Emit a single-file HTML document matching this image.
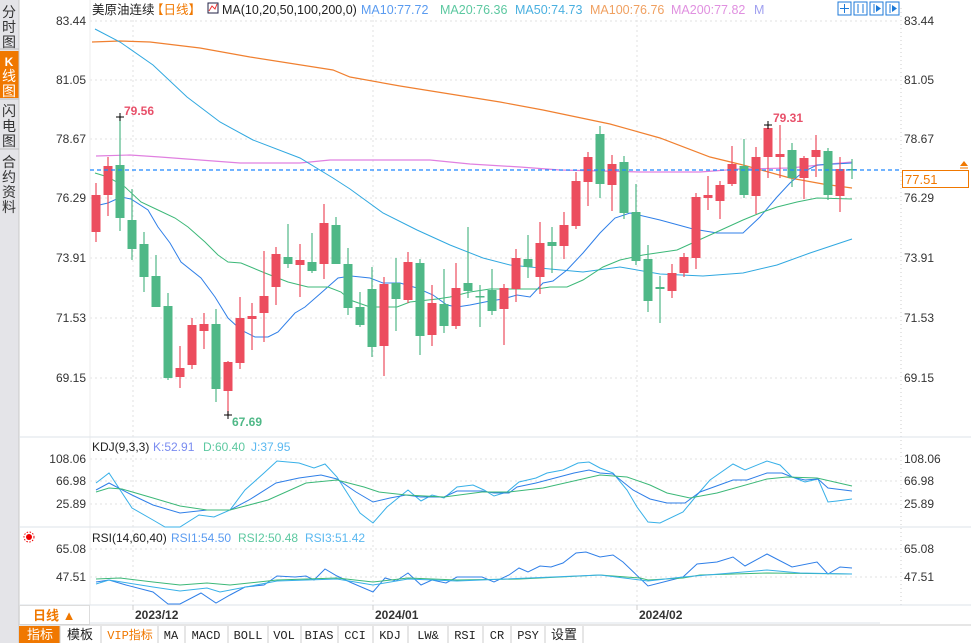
<!DOCTYPE html>
<html><head><meta charset="utf-8"><style>
*{margin:0;padding:0}
body{width:971px;height:643px;background:#fff;overflow:hidden;font-family:"Liberation Sans","Noto Sans CJK SC",sans-serif;position:relative}
svg{position:absolute;left:0;top:0}
</style></head><body>
<svg width="971" height="643" viewBox="0 0 971 643" font-family="Liberation Sans, Noto Sans CJK SC, sans-serif">
<rect x="0" y="0" width="19" height="643" fill="#e4e4e8"/>
<rect x="0" y="51" width="19" height="47" fill="#f07800"/>
<line x1="19" y1="0" x2="19" y2="643" stroke="#c8c8c8"/>
<g font-size="14" fill="#333" text-anchor="middle">
<text x="9" y="17">分</text><text x="9" y="32">时</text><text x="9" y="47">图</text>
<text x="9" y="66" fill="#fff" font-size="12" font-weight="bold">K</text><text x="9" y="81" fill="#fff">线</text><text x="9" y="96" fill="#fff">图</text>
<text x="9" y="116">闪</text><text x="9" y="131">电</text><text x="9" y="146">图</text>
<text x="9" y="167">合</text><text x="9" y="182">约</text><text x="9" y="197">资</text><text x="9" y="212">料</text>
</g>
<line x1="0" y1="49" x2="19" y2="49" stroke="#bbb"/><line x1="0" y1="99" x2="19" y2="99" stroke="#bbb"/><line x1="0" y1="149" x2="19" y2="149" stroke="#bbb"/>
<g stroke="#e2e2e2" stroke-dasharray="2,3">
<line x1="90" y1="21" x2="900" y2="21"/><line x1="90" y1="80" x2="900" y2="80"/><line x1="90" y1="139" x2="900" y2="139"/><line x1="90" y1="198" x2="900" y2="198"/><line x1="90" y1="258" x2="900" y2="258"/><line x1="90" y1="318" x2="900" y2="318"/><line x1="90" y1="378" x2="900" y2="378"/>
<line x1="90" y1="459" x2="900" y2="459"/><line x1="90" y1="481" x2="900" y2="481"/><line x1="90" y1="504" x2="900" y2="504"/>
<line x1="90" y1="549" x2="900" y2="549"/><line x1="90" y1="577" x2="900" y2="577"/>
<line x1="133" y1="10" x2="133" y2="605"/><line x1="373" y1="10" x2="373" y2="605"/><line x1="637" y1="10" x2="637" y2="605"/>
</g>
<line x1="90" y1="0" x2="90" y2="605" stroke="#eee"/>
<line x1="901" y1="8" x2="901" y2="605" stroke="#ccc" stroke-dasharray="1,3"/>
<g stroke="#dde3ea"><line x1="19" y1="437" x2="971" y2="437"/><line x1="19" y1="527" x2="971" y2="527"/><line x1="19" y1="605" x2="971" y2="605"/><line x1="90" y1="623" x2="880" y2="623"/></g>
<g font-size="12" fill="#333" text-anchor="end">
<text x="86" y="25">83.44</text><text x="86" y="84">81.05</text><text x="86" y="143">78.67</text><text x="86" y="202">76.29</text><text x="86" y="262">73.91</text><text x="86" y="322">71.53</text><text x="86" y="382">69.15</text>
<text x="86" y="463">108.06</text><text x="86" y="485">66.98</text><text x="86" y="508">25.89</text>
<text x="86" y="553">65.08</text><text x="86" y="581">47.51</text>
</g>
<g font-size="12" fill="#333">
<text x="904" y="25">83.44</text><text x="904" y="84">81.05</text><text x="904" y="143">78.67</text><text x="904" y="202">76.29</text><text x="904" y="262">73.91</text><text x="904" y="322">71.53</text><text x="904" y="382">69.15</text>
<text x="904" y="463">108.06</text><text x="904" y="485">66.98</text><text x="904" y="508">25.89</text>
<text x="904" y="553">65.08</text><text x="904" y="581">47.51</text>
</g>
<text x="92" y="14" font-size="12.5" fill="#222">美原油连续</text>
<text x="151" y="14" font-size="12.5" fill="#f07800">【日线】</text>
<rect x="208" y="3" width="10" height="10" fill="#fff" stroke="#224"/><polyline points="209,11 212,6 215,9 217,4" fill="none" stroke="#e33"/>
<text x="222" y="14" font-size="12.5" fill="#222">MA(10,20,50,100,200,0)</text>
<text x="361" y="14" font-size="12.5" fill="#5a9bf0">MA10:77.72</text>
<text x="440" y="14" font-size="12.5" fill="#5cc8a0">MA20:76.36</text>
<text x="515" y="14" font-size="12.5" fill="#4ab0e0">MA50:74.73</text>
<text x="590" y="14" font-size="12.5" fill="#f0a060">MA100:76.76</text>
<text x="671" y="14" font-size="12.5" fill="#e090e0">MA200:77.82</text>
<text x="754" y="14" font-size="12.5" fill="#a0a0f0">M</text>
<g fill="none" stroke="#1d7ad8"><rect x="838" y="2" width="13" height="13"/><rect x="854" y="2" width="13" height="13"/><rect x="870" y="2" width="13" height="13"/><rect x="886" y="2" width="13" height="13"/></g>
<g stroke="#1d7ad8"><line x1="844.5" y1="4" x2="844.5" y2="13"/><line x1="840" y1="8.5" x2="849" y2="8.5"/><line x1="858" y1="4" x2="858" y2="13"/><line x1="863" y1="4" x2="863" y2="13"/><line x1="874" y1="4" x2="874" y2="13"/><line x1="890" y1="4" x2="890" y2="13"/></g>
<polygon points="876,5 881,8.5 876,12" fill="#1d7ad8"/><polygon points="892,5 897,8.5 892,12" fill="#1d7ad8"/>
<polyline fill="none" stroke="#e080e0" stroke-width="1.2" points="96,156 130,155 160,157 200,160 240,163 300,163 330,160 430,160 470,164 520,167 560,170 640,172 700,172 740,169 790,168 830,164 852,162"/>
<polyline fill="none" stroke="#f08030" stroke-width="1.2" points="92,42 120,41 150,42 200,48 250,57 333,70 350,77 400,86 500,102 543,110 610,124 660,138 710,157 743,165 790,178 823,184 852,188"/>
<polyline fill="none" stroke="#30a8e0" stroke-width="1" points="95,29 120,42 153,65 187,97 220,122 253,140 300,158 333,178 350,189 383,213 417,230 450,245 483,258 510,265 550,269 583,272 620,267 660,274 703,276 743,273 777,265 810,253 852,239"/>
<polyline fill="none" stroke="#2f7fe8" stroke-width="1" points="95,206 108,203 121,197 131,199 148,210 158,227 170,243 181,262 201,278 215,297 228,318 241,330 255,337 268,337 278,332 295,313 305,307 321,293 338,278 351,276 370,278 383,283 400,283 417,288 433,295 447,305 457,307 470,305 490,301 503,299 517,295 530,297 543,283 553,281 567,270 583,253 600,233 615,218 630,213 660,220 693,229 717,233 743,233 760,217 777,197 790,183 803,172 817,165 852,163"/>
<polyline fill="none" stroke="#3cb878" stroke-width="1" points="95,173 108,177 125,187 141,202 158,210 175,218 188,227 205,242 218,255 228,262 241,263 265,273 288,282 308,287 328,287 341,292 350,300 370,307 397,307 410,302 437,299 450,297 470,292 490,289 537,289 550,287 567,287 583,280 603,267 620,260 643,255 677,250 710,235 743,220 760,213 777,207 797,202 817,198 852,199"/>
<g id="c"></g>
<line x1="90" y1="170" x2="901" y2="170" stroke="#1e88ff" stroke-width="1.3" stroke-dasharray="4,3"/>
<rect x="902.5" y="170.5" width="66" height="17" fill="#fff" stroke="#f07800"/>
<text x="905" y="184" font-size="13" fill="#f07800">77.51</text>
<polygon points="960,166 964,161 968,166" fill="#f07800"/><line x1="960" y1="168" x2="968" y2="168" stroke="#f07800"/>
<g stroke="#000"><line x1="116" y1="117" x2="124" y2="117"/><line x1="120" y1="113" x2="120" y2="121"/><line x1="224" y1="415" x2="232" y2="415"/><line x1="228" y1="411" x2="228" y2="419"/><line x1="764" y1="125" x2="772" y2="125"/><line x1="768" y1="121" x2="768" y2="129"/></g>
<text x="124" y="115" font-size="12" font-weight="bold" fill="#e8506a">79.56</text>
<text x="232" y="426" font-size="12" font-weight="bold" fill="#4fb887">67.69</text>
<text x="773" y="122" font-size="12" font-weight="bold" fill="#e8506a">79.31</text>
<text x="92" y="451" font-size="12" fill="#222">KDJ(9,3,3)</text>
<text x="153" y="451" font-size="12" fill="#7a8cf0">K:52.91</text>
<text x="203" y="451" font-size="12" fill="#5cc8a0">D:60.40</text>
<text x="251" y="451" font-size="12" fill="#5ab8f0">J:37.95</text>
<polyline fill="none" stroke="#38b0e8" points="96,483 109,473 132,508 153,520 165,527 180,527 199,515 214,517 230,510 245,490 264,473 277,461 299,463 314,468 325,464 337,477 360,513 373,523 387,507 398,498 408,490 421,501 432,495 444,498 457,487 473,485 484,490 494,496 507,492 519,482 536,478 547,473 563,470 578,463 589,462 600,468 613,473 627,490 637,507 648,522 660,523 683,512 697,495 710,480 733,464 745,470 767,461 780,465 792,477 805,482 818,479 828,502 837,501 852,499"/>
<polyline fill="none" stroke="#2f7fe8" points="96,490 109,483 132,495 153,505 180,513 207,510 230,510 249,500 276,483 299,478 321,475 337,479 356,492 373,502 390,498 406,495 421,497 444,497 457,491 482,491 494,493 509,493 517,487 536,483 555,478 574,473 589,470 600,473 613,474 633,490 650,499 667,503 685,503 700,492 733,480 747,480 767,473 782,473 792,477 805,480 818,479 828,488 852,491"/>
<polyline fill="none" stroke="#3cb878" points="96,492 109,488 122,489 153,498 180,506 207,510 230,510 268,500 306,483 337,480 364,487 379,492 406,495 444,497 482,492 509,492 543,488 600,475 627,477 650,485 667,493 690,498 717,493 767,479 787,477 817,478 852,486"/>
<g transform="translate(29,537)"><circle r="3" fill="#e00"/><circle r="5" fill="none" stroke="#e00" stroke-dasharray="1.5,1.5"/></g>
<text x="92" y="542" font-size="12" fill="#222">RSI(14,60,40)</text>
<text x="171" y="542" font-size="12" fill="#5a9bf0">RSI1:54.50</text>
<text x="238" y="542" font-size="12" fill="#5cc8a0">RSI2:50.48</text>
<text x="305" y="542" font-size="12" fill="#5ab8f0">RSI3:51.42</text>
<polyline fill="none" stroke="#2f7fe8" points="96,582 109,580 126,585 153,592 168,604 180,604 201,593 216,603 230,595 245,587 264,585 277,576 295,577 306,576 314,580 325,569 337,576 352,583 373,592 385,578 396,581 408,573 421,585 432,580 446,583 457,577 482,577 494,582 509,575 519,568 528,572 540,566 551,567 563,563 576,553 586,552 600,557 613,555 623,562 648,586 683,577 697,564 717,562 733,557 745,566 767,554 792,567 817,562 828,574 840,567 852,568"/>
<polyline fill="none" stroke="#3cb878" points="96,579 120,578 153,582 180,585 207,583 230,585 277,580 337,578 373,582 408,578 457,580 520,579 600,575 640,578 648,580 683,578 700,575 767,573 852,574"/>
<polyline fill="none" stroke="#38b0e8" points="96,584 109,580 153,587 180,591 207,588 220,592 277,581 337,579 373,585 408,579 457,581 600,575 648,581 683,577 767,570 800,573 852,574"/>
<line x1="133" y1="605" x2="133" y2="610" stroke="#ccc"/><line x1="373" y1="605" x2="373" y2="610" stroke="#ccc"/><line x1="637" y1="605" x2="637" y2="610" stroke="#ccc"/>
<g font-size="12" font-weight="bold" fill="#333"><text x="135" y="619">2023/12</text><text x="375" y="619">2024/01</text><text x="639" y="619">2024/02</text></g>
<rect x="19.5" y="605.5" width="70" height="19" fill="#fff" stroke="#ddd"/>
<text x="33" y="620" font-size="13" font-weight="bold" fill="#f07800">日线 ▲</text>
<rect x="19" y="625" width="952" height="18" fill="#fff"/>
<line x1="19" y1="625" x2="971" y2="625" stroke="#ccc"/>
<rect x="19" y="626" width="41" height="17" fill="#f07800"/>
<g font-size="12" fill="#222" text-anchor="middle" font-family="Liberation Mono, Noto Sans CJK SC, monospace">
<text x="40" y="639" fill="#fff" font-family="Liberation Sans, Noto Sans CJK SC, sans-serif" font-size="13">指标</text>
<text x="80" y="639" font-family="Liberation Sans, Noto Sans CJK SC, sans-serif" font-size="13">模板</text>
<text x="130" y="639" fill="#f07800">VIP指标</text>
<text x="171" y="639">MA</text><text x="206" y="639">MACD</text><text x="248" y="639">BOLL</text><text x="284" y="639">VOL</text><text x="319" y="639">BIAS</text><text x="355" y="639">CCI</text><text x="390" y="639">KDJ</text><text x="428" y="639">LW&amp;</text><text x="465" y="639">RSI</text><text x="497" y="639">CR</text><text x="528" y="639">PSY</text>
<text x="564" y="639" font-family="Liberation Sans, Noto Sans CJK SC, sans-serif" font-size="13">设置</text>
</g>
<g stroke="#ccc"><line x1="60" y1="626" x2="60" y2="643"/><line x1="101" y1="626" x2="101" y2="643"/><line x1="158" y1="626" x2="158" y2="643"/><line x1="185" y1="626" x2="185" y2="643"/><line x1="228" y1="626" x2="228" y2="643"/><line x1="268" y1="626" x2="268" y2="643"/><line x1="301" y1="626" x2="301" y2="643"/><line x1="338" y1="626" x2="338" y2="643"/><line x1="373" y1="626" x2="373" y2="643"/><line x1="408" y1="626" x2="408" y2="643"/><line x1="448" y1="626" x2="448" y2="643"/><line x1="483" y1="626" x2="483" y2="643"/><line x1="511" y1="626" x2="511" y2="643"/><line x1="545" y1="626" x2="545" y2="643"/><line x1="583" y1="626" x2="583" y2="643"/></g>
</svg>
<script>
var d=[[195,232,183,242,'r'],[166,195,157,216,'r'],[165,218,117,231,'g'],[220,249,189,260,'g'],[244,277,232,292,'g'],[276,307,255,307,'g'],[306,378,293,380,'g'],[368,377,346,388,'r'],[325,365,318,369,'r'],[324,331,313,349,'r'],[324,389,309,402,'g'],[362,391,361,415,'r'],[318,363,297,369,'r'],[316,319,303,350,'r'],[296,313,251,342,'r'],[254,287,247,305,'r'],[257,264,224,268,'g'],[260,265,244,297,'r'],[262,271,233,273,'g'],[223,264,204,279,'r'],[225,264,217,264,'g'],[264,308,248,315,'g'],[307,325,292,327,'g'],[289,347,267,357,'g'],[284,346,277,376,'r'],[283,299,258,331,'g'],[262,300,252,303,'r'],[263,336,259,355,'g'],[303,335,285,346,'r'],[304,326,269,333,'g'],[288,326,263,329,'r'],[283,291,227,298,'g'],[296,297,285,327,'g'],[290,311,269,315,'g'],[288,309,284,345,'r'],[258,289,249,302,'r'],[259,267,235,278,'g'],[243,277,222,294,'r'],[242,246,227,273,'g'],[225,246,212,259,'r'],[181,226,172,229,'r'],[157,182,152,206,'r'],[134,184,126,198,'g'],[164,185,155,211,'r'],[162,213,156,219,'g'],[212,261,184,265,'g'],[259,301,245,312,'g'],[287,289,276,323,'g'],[273,291,264,298,'r'],[257,273,253,277,'r'],[197,258,193,269,'r'],[195,198,176,210,'r'],[185,201,181,219,'r'],[164,184,146,186,'r'],[166,195,139,198,'g'],[157,196,147,214,'r'],[128,157,125,178,'r'],[154,157,125,178,'r'],[150,178,143,187,'g'],[158,178,156,199,'r'],[150,157,135,177,'r'],[151,195,148,200,'g'],[169,196,157,212,'r'],[169,170,159,179,'g']];
var s='';for(var i=0;i<d.length;i++){var x=96+12*i,c=d[i],col=c[4]=='r'?'#ec4d5e':'#4fb887';
s+='<line x1="'+x+'" y1="'+c[2]+'" x2="'+x+'" y2="'+c[3]+'" stroke="'+col+'" stroke-width="1.2"/>';
s+='<rect x="'+(x-4.5)+'" y="'+c[0]+'" width="9" height="'+Math.max(1.5,c[1]-c[0])+'" fill="'+col+'"/>';}
document.getElementById('c').innerHTML=s;
</script>
</body></html>
